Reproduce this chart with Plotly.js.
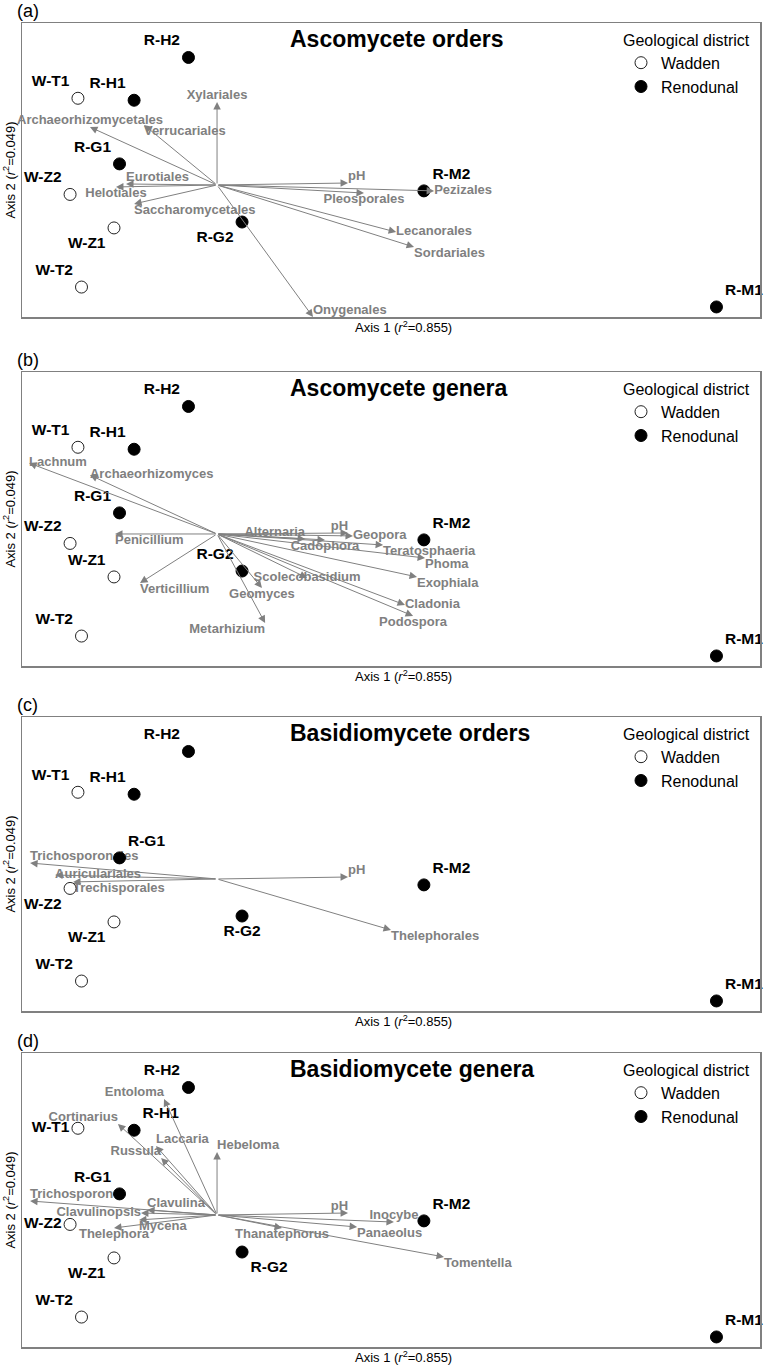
<!DOCTYPE html>
<html><head><meta charset="utf-8">
<script src="https://cdn.plot.ly/plotly-3.0.1.min.js"></script>
<style>html,body{margin:0;padding:0;background:#fff}#chart{width:765px;height:1368px}</style>
</head><body><div id="chart"></div>
<script>
// ---- sample scores (same ordination in every panel) ----
const waddenNames = ['W-T1', 'W-Z2', 'W-Z1', 'W-T2'];
const waddenAxis1 = [-0.706, -0.746, -0.523, -0.688];
const waddenAxis2 = [0.440, -0.048, -0.218, -0.518];
const renodunalNames = ['R-H2', 'R-H1', 'R-G1', 'R-G2', 'R-M2', 'R-M1'];
const renodunalAxis1 = [-0.145, -0.421, -0.495, 0.127, 1.050, 2.535];
const renodunalAxis2 = [0.647, 0.430, 0.107, -0.188, -0.030, -0.619];

// ---- (a) Ascomycete orders vectors ----
const ascOrderNames = ['Xylariales', 'Verrucariales', 'Archaeorhizomycetales', 'Eurotiales', 'Helotiales', 'Saccharomycetales', 'pH', 'Pleosporales', 'Pezizales', 'Lecanorales', 'Sordariales', 'Onygenales'];
const ascOrderAxis1 = [0.000, -0.371, -0.645, -0.462, -0.513, -0.421, 0.665, 0.746, 1.102, 0.909, 1.000, 0.487];
const ascOrderAxis2 = [0.421, 0.305, 0.294, 0.005, -0.010, -0.096, 0.010, -0.041, -0.030, -0.239, -0.315, -0.670];

// ---- (b) Ascomycete genera vectors ----
const ascGenusNames = ['Lachnum', 'Archaeorhizomyces', 'Penicillium', 'Verticillium', 'Alternaria', 'pH', 'Geopora', 'Cadophora', 'Teratosphaeria', 'Phoma', 'Exophiala', 'Cladonia', 'Podospora', 'Scolecobasidium', 'Geomyces', 'Metarhizium'];
const ascGenusAxis1 = [-0.954, -0.645, -0.518, -0.391, 0.447, 0.665, 0.690, 0.548, 0.843, 1.056, 1.015, 0.954, 0.995, 0.457, 0.228, 0.244];
const ascGenusAxis2 = [0.360, 0.299, 0.000, -0.249, -0.025, 0.005, -0.010, -0.030, -0.056, -0.122, -0.218, -0.360, -0.416, -0.223, -0.274, -0.452];

// ---- (c) Basidiomycete orders vectors ----
const basOrderNames = ['Trichosporonales', 'Auriculariales', 'Trechisporales', 'pH', 'Thelephorales'];
const basOrderAxis1 = [-0.949, -0.822, -0.731, 0.665, 0.883];
const basOrderAxis2 = [0.081, 0.020, -0.015, 0.010, -0.259];

// ---- (d) Basidiomycete genera vectors ----
const basGenusNames = ['Entoloma', 'Cortinarius', 'Laccaria', 'Russula', 'Hebeloma', 'Trichosporon', 'Clavulina', 'Clavulinopsis', 'Mycena', 'Thelephora', 'pH', 'Inocybe', 'Panaeolus', 'Thanatephorus', 'Tomentella'];
const basGenusAxis1 = [-0.269, -0.503, -0.310, -0.284, 0.000, -0.949, -0.355, -0.386, -0.396, -0.523, 0.665, 0.898, 0.711, 0.330, 1.152];
const basGenusAxis2 = [0.589, 0.462, 0.350, 0.289, 0.320, 0.071, 0.025, 0.010, -0.025, -0.066, 0.010, -0.036, -0.061, -0.066, -0.213];

const panelLetters = ['(a)', '(b)', '(c)', '(d)'];
const panelTitles = ['Ascomycete orders', 'Ascomycete genera', 'Basidiomycete orders', 'Basidiomycete genera'];
const xTitle = 'Axis 1 (<i>r</i><sup>2</sup>=0.855)';
const yTitle = 'Axis 2 (<i>r</i><sup>2</sup>=0.049)';
const legendTitle = 'Geological district';

// ---- styling / layout (label placements) ----
const W = 765, H = 1368;
const FONT = 'Liberation Sans, Arial, Helvetica, sans-serif';
const GREY = '#808080';
const panelTopsPx = [23, 372, 717, 1053];
const panelHeightPx = 294;
const panelLeftPx = 22, panelRightPx = 760;

const panels = [
  {names: ascOrderNames, vx: ascOrderAxis1, vy: ascOrderAxis2,
   pos: ['top center','bottom right','top center','top right','bottom center','bottom right','top right','bottom center','middle right','middle right','bottom right','top right'],
   wPos: ['top left','top left','bottom left','top left'],
   rPos: ['top left','top left','top left','bottom left','top right','top right']},
  {names: ascGenusNames, vx: ascGenusAxis1, vy: ascGenusAxis2,
   pos: ['middle right','middle right','bottom right','bottom right','top left','top left','middle right','bottom center','bottom right','bottom right','bottom right','middle right','bottom center','middle center','bottom center','bottom left'],
   wPos: ['top left','top left','top left','top left'],
   rPos: ['top left','top left','top left','top left','top right','top right']},
  {names: basOrderNames, vx: basOrderAxis1, vy: basOrderAxis2,
   pos: ['top right','middle right','bottom right','top right','bottom right'],
   wPos: ['top left','bottom left','bottom left','top left'],
   rPos: ['top left','top left','top right','bottom center','top right','top right']},
  {names: basGenusNames, vx: basGenusAxis1, vy: basGenusAxis2,
   pos: ['top left','top left','top right','top left','top right','top right','top right','middle left','bottom right','bottom center','top left','top center','bottom right','bottom center','bottom right'],
   wPos: ['middle left','middle left','bottom left','top left'],
   rPos: ['top left','top right','top left','bottom right','top right','top right']}
];

const xRange = [-0.990, 2.756];
const yRange = [-0.670, 0.822];

const traces = [];
const annotations = [];
const layout = {
  width: W, height: H,
  margin: {l: 0, r: 0, t: 0, b: 0},
  paper_bgcolor: '#fff', plot_bgcolor: '#fff',
  font: {family: FONT, color: '#000'},
  showlegend: true,
  annotations: annotations
};

panels.forEach((p, i) => {
  const s = i === 0 ? '' : String(i + 1);
  const xa = 'x' + s, ya = 'y' + s;
  const legId = 'legend' + s;
  const top = panelTopsPx[i];
  const yTop = 1 - top / H, yBot = 1 - (top + panelHeightPx) / H;

  layout['xaxis' + s] = {
    domain: [panelLeftPx / W, panelRightPx / W], range: xRange, anchor: ya,
    showticklabels: false, ticks: '', showgrid: false, zeroline: false,
    showline: true, mirror: true, linecolor: GREY, linewidth: 1.5, fixedrange: true
  };
  layout['yaxis' + s] = {
    domain: [yBot, yTop], range: yRange, anchor: xa,
    showticklabels: false, ticks: '', showgrid: false, zeroline: false,
    showline: true, mirror: true, linecolor: GREY, linewidth: 1.5, fixedrange: true,
    title: {text: yTitle, font: {size: 13, family: FONT, color: '#000'}, standoff: 2}
  };
  layout[legId] = {
    x: 621 / W, xanchor: 'left', y: yTop - 2 / H, yanchor: 'top',
    bgcolor: 'rgba(0,0,0,0)', borderwidth: 0,
    font: {size: 16, family: FONT, color: '#000'},
    title: {text: legendTitle, side: 'top', font: {size: 16, family: FONT, color: '#000'}},
    tracegroupgap: 0
  };

  // arrows (vectors from origin)
  p.vx.forEach((vx, k) => {
    annotations.push({
      xref: xa, yref: ya, axref: xa, ayref: ya,
      x: vx, y: p.vy[k], ax: 0, ay: 0, text: '',
      showarrow: true, arrowhead: 2, arrowsize: 1.5, arrowwidth: 1,
      arrowcolor: GREY, standoff: 0, startstandoff: 0
    });
  });
  // vector labels
  traces.push({
    type: 'scatter', mode: 'text', xaxis: xa, yaxis: ya,
    x: p.vx, y: p.vy, text: p.names, textposition: p.pos,
    textfont: {family: FONT, size: 13, color: GREY, weight: 'bold'},
    showlegend: false, hoverinfo: 'skip', cliponaxis: false
  });
  // sample points
  traces.push({
    type: 'scatter', mode: 'markers+text', name: 'Wadden', legend: legId,
    xaxis: xa, yaxis: ya, x: waddenAxis1, y: waddenAxis2, text: waddenNames,
    textposition: p.wPos,
    textfont: {family: FONT, size: 15.5, color: '#000', weight: 'bold'},
    marker: {symbol: 'circle', size: 12, color: '#fff', line: {color: '#222', width: 1}},
    cliponaxis: false
  });
  traces.push({
    type: 'scatter', mode: 'markers+text', name: 'Renodunal', legend: legId,
    xaxis: xa, yaxis: ya, x: renodunalAxis1, y: renodunalAxis2, text: renodunalNames,
    textposition: p.rPos,
    textfont: {family: FONT, size: 15.5, color: '#000', weight: 'bold'},
    marker: {symbol: 'circle', size: 12, color: '#000', line: {color: '#000', width: 1}},
    cliponaxis: false
  });

  // x axis title (below the frame, slightly right of centre as in the original)
  annotations.push({
    xref: xa + ' domain', yref: ya + ' domain', x: (403 - panelLeftPx) / (panelRightPx - panelLeftPx),
    y: -10 / panelHeightPx, xanchor: 'center', yanchor: 'middle', showarrow: false,
    text: xTitle, font: {size: 13, family: FONT, color: '#000'}
  });
  // panel title inside frame
  annotations.push({
    xref: xa + ' domain', yref: ya + ' domain', x: (288 - panelLeftPx) / (panelRightPx - panelLeftPx),
    y: 1 - 16 / panelHeightPx, xanchor: 'left', yanchor: 'middle', showarrow: false,
    text: '<b>' + panelTitles[i] + '</b>', font: {size: 23, family: FONT, color: '#000'}
  });
  // panel letter
  annotations.push({
    xref: 'paper', yref: 'paper', x: 15 / W, y: 1 - (top - 12) / H,
    xanchor: 'left', yanchor: 'middle', showarrow: false,
    text: panelLetters[i], font: {size: 18, family: FONT, color: '#000'}
  });
});

Plotly.newPlot('chart', traces, layout, {displayModeBar: false, staticPlot: true});
</script>
</body></html>
